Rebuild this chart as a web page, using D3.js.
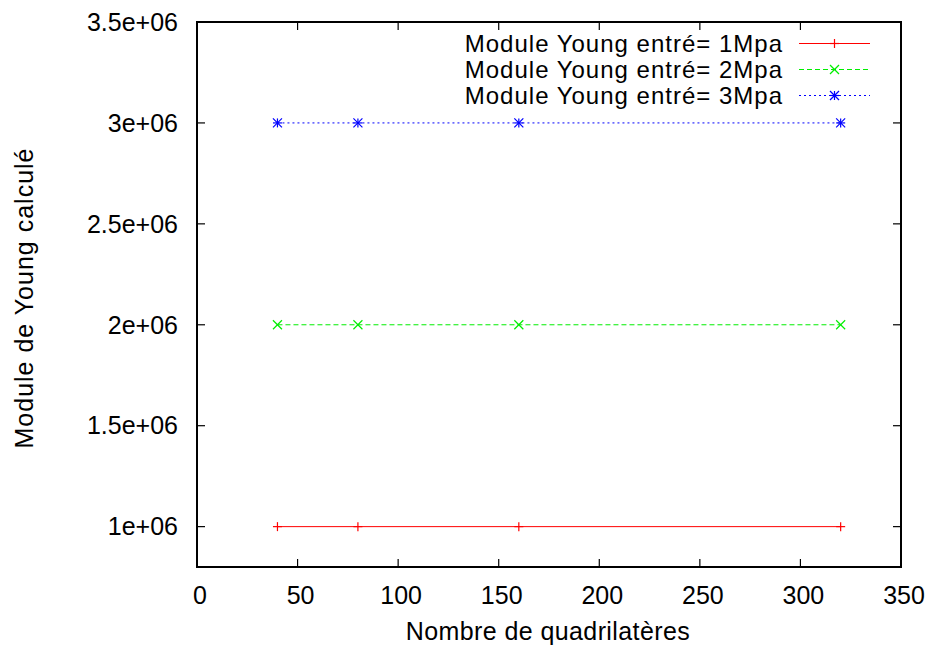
<!DOCTYPE html>
<html><head><meta charset="utf-8">
<script src="https://cdn.jsdelivr.net/npm/d3@7"></script>
<style>body{margin:0;background:#fff}text{font-family:"Liberation Sans",Arial,sans-serif}</style>
</head><body><svg id="c" width="929" height="648"></svg>
<script>
const quads = [40, 80, 160, 320];
const series1 = [1000000, 1000000, 1000000, 1000000];
const series2 = [2000000, 2000000, 2000000, 2000000];
const series3 = [3000000, 3000000, 3000000, 3000000];
const seriesNames = ["Module Young entré= 1Mpa", "Module Young entré= 2Mpa", "Module Young entré= 3Mpa"];
const xTicks = [0, 50, 100, 150, 200, 250, 300, 350];
const yTicks = [1000000, 1500000, 2000000, 2500000, 3000000, 3500000];
const yTickLabels = ["1e+06", "1.5e+06", "2e+06", "2.5e+06", "3e+06", "3.5e+06"];

const svg = d3.select("#c");
const L = 197, R = 901, T = 22, B = 567;
const x = d3.scaleLinear().domain([0, 350]).range([L, R]);
const y = d3.scaleLinear().domain([800000, 3500000]).range([B, T]);
const fs = 25;

const styles = [
  {color: "#ff0000", dash: null, marker: "plus"},
  {color: "#00ee00", dash: "5,3", marker: "cross"},
  {color: "#0000ff", dash: "2,3", marker: "star"}
];
const data = [series1, series2, series3];

const tk = 8;
const g = svg.append("g");
xTicks.forEach(v => {
  g.append("line").attr("x1", x(v)).attr("x2", x(v)).attr("y1", B).attr("y2", B - tk).attr("stroke", "#000").attr("stroke-width", 1.2);
  g.append("line").attr("x1", x(v)).attr("x2", x(v)).attr("y1", T).attr("y2", T + tk).attr("stroke", "#000").attr("stroke-width", 1.2);
  g.append("text").attr("x", x(v) + 3).attr("y", 604).attr("text-anchor", "middle").attr("font-size", fs).text(v);
});
yTicks.forEach((v, i) => {
  g.append("line").attr("x1", L).attr("x2", L + tk).attr("y1", y(v)).attr("y2", y(v)).attr("stroke", "#000").attr("stroke-width", 1.2);
  g.append("line").attr("x1", R).attr("x2", R - tk).attr("y1", y(v)).attr("y2", y(v)).attr("stroke", "#000").attr("stroke-width", 1.2);
  g.append("text").attr("x", 178).attr("y", y(v)).attr("dy", "0.35em").attr("text-anchor", "end").attr("font-size", fs).text(yTickLabels[i]);
});

function marker(sel, type, cx, cy, color) {
  const s = 4.5;
  const seg = (x1, y1, x2, y2) => sel.append("line").attr("x1", cx + x1).attr("y1", cy + y1).attr("x2", cx + x2).attr("y2", cy + y2).attr("stroke", color).attr("stroke-width", 1.2);
  if (type === "plus" || type === "star") { seg(-s, 0, s, 0); seg(0, -s, 0, s); }
  if (type === "cross" || type === "star") { seg(-s, -s, s, s); seg(-s, s, s, -s); }
}

const line = d3.line().x(d => x(d[0])).y(d => y(d[1]));
data.forEach((vals, i) => {
  const st = styles[i];
  const pts = quads.map((q, j) => [q, vals[j]]);
  svg.append("path").attr("d", line(pts)).attr("fill", "none").attr("stroke", st.color).attr("stroke-width", 1).attr("stroke-dasharray", st.dash);
  pts.forEach(p => marker(svg, st.marker, x(p[0]), y(p[1]), st.color));
});

seriesNames.forEach((n, i) => {
  const st = styles[i];
  const ly = 43.5 + i * 26;
  svg.append("text").attr("x", 783).attr("y", ly + 8).attr("text-anchor", "end").attr("font-size", 24).attr("letter-spacing", 1).text(n);
  svg.append("line").attr("x1", 799).attr("x2", 870).attr("y1", ly).attr("y2", ly).attr("stroke", st.color).attr("stroke-width", 1).attr("stroke-dasharray", st.dash);
  marker(svg, st.marker, 834.5, ly, st.color);
});

svg.append("rect").attr("x", L).attr("y", T).attr("width", R - L).attr("height", B - T).attr("fill", "none").attr("stroke", "#000").attr("stroke-width", 2);

svg.append("text").attr("x", 548).attr("y", 640).attr("text-anchor", "middle").attr("font-size", 25).attr("letter-spacing", 0.4).text("Nombre de quadrilatères");
svg.append("text").attr("transform", "translate(33,298) rotate(-90)").attr("text-anchor", "middle").attr("font-size", 25).attr("letter-spacing", 1).text("Module de Young calculé");
</script></body></html>
